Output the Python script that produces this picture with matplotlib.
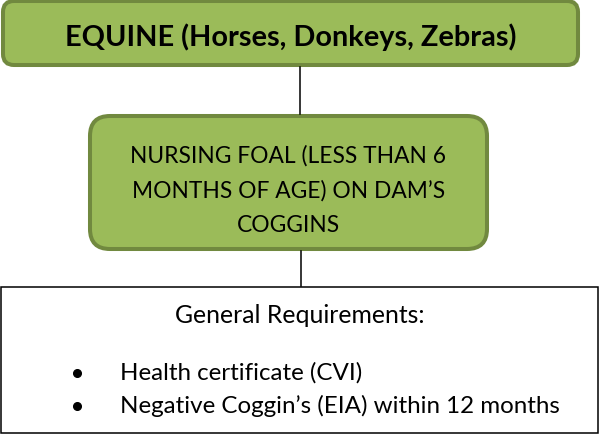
import matplotlib
matplotlib.use("Agg")
import matplotlib.pyplot as plt
from matplotlib.patches import FancyBboxPatch, Rectangle

# chart content
title_text = "EQUINE (Horses, Donkeys, Zebras)"
foal_lines = ["NURSING FOAL (LESS THAN 6", "MONTHS OF AGE) ON DAM\u2019S", "COGGINS"]
req_heading = "General Requirements:"
req_items = ["Health certificate (CVI)", "Negative Coggin\u2019s (EIA) within 12 months"]

fill_green = "#9BBB59"
edge_green = "#71893F"
font = ["Lato", "DejaVu Sans"]

W, H = 599, 435
fig = plt.figure(figsize=(W / 100, H / 100), dpi=100)
ax = fig.add_axes([0, 0, 1, 1])
ax.set_xlim(0, W)
ax.set_ylim(H, 0)
ax.axis("off")
renderer = fig.canvas.get_renderer()


def fit_text(x, y, s, width, ha="center", weight="normal", size=None):
    # size the text so it spans about `width` pixels, like the original
    t = ax.text(x, y, s, ha=ha, va="baseline", family=font, weight=weight, fontsize=10, color="black")
    if size is None:
        w = t.get_window_extent(renderer).width
        size = 10 * width / w
    t.set_fontsize(size)
    return size


# top box
ax.add_patch(FancyBboxPatch((3, 2), 575, 64, boxstyle="round,pad=0,rounding_size=11",
                            fc=fill_green, ec=edge_green, lw=2.9))
fit_text(291, 46, title_text, 452, weight="bold")

# connector
ax.plot([300, 300], [68, 115], color="black", lw=1.1)

# middle box
ax.add_patch(FancyBboxPatch((90, 117), 397, 133, boxstyle="round,pad=0,rounding_size=20",
                            fc=fill_green, ec=edge_green, lw=2.9))
sz = fit_text(288.5, 163, foal_lines[0], 313)
for line, yb in zip(foal_lines[1:], [198, 232]):
    fit_text(288.5, yb, line, 0, size=sz)

# connector
ax.plot([301, 301], [252, 287], color="black", lw=1.1)

# requirements box
ax.add_patch(Rectangle((1, 287.5), 596.5, 146.5, fc="white", ec="black", lw=1.1))
fit_text(300, 323, req_heading, 249)
sz2 = fit_text(120, 413, req_items[1], 438, ha="left")
fit_text(120, 380, req_items[0], 0, ha="left", size=sz2)
ax.plot([77, 77], [374, 407], "o", color="black", ms=5.5, ls="none")

fig.savefig("out.png", dpi=100)
